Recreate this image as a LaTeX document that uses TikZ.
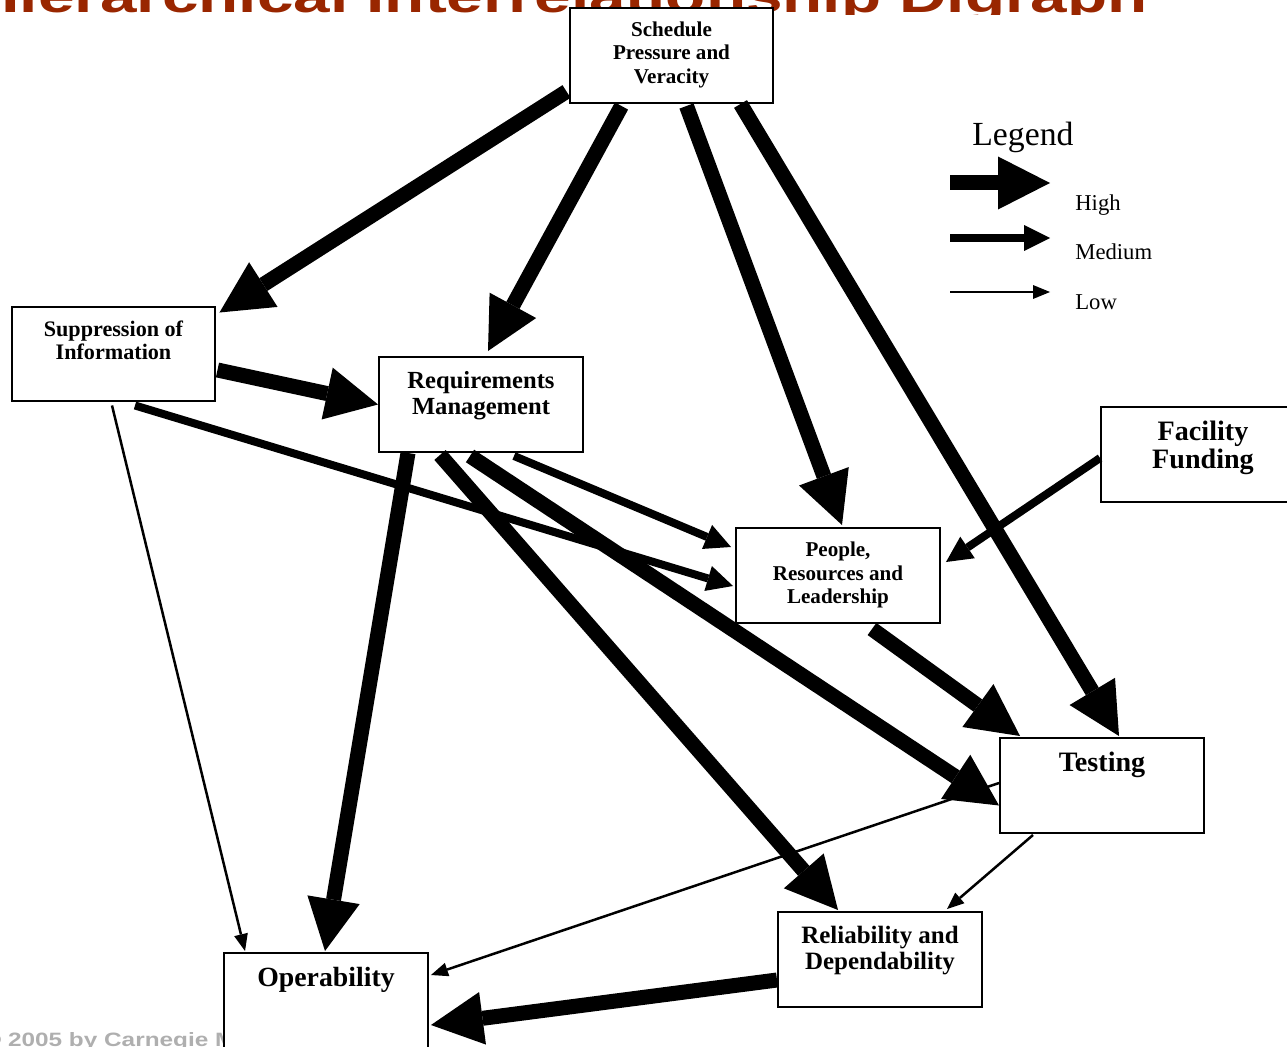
\documentclass[tikz,border=0pt]{standalone}
\usepackage{fontspec}
\setmainfont{Liberation Serif}
\setsansfont{Liberation Sans}
\usepackage{graphicx}
\usetikzlibrary{arrows.meta,calc}

\definecolor{titlered}{RGB}{153,38,0}
\definecolor{copygrey}{RGB}{175,175,175}

\tikzset{
    box/.style={draw, line width=0.04cm, fill=white, minimum width=4.08cm, minimum height=1.9cm, inner sep=0pt},
    boxtext/.style 2 args={anchor=north, yshift=-0.3cm, inner sep=0pt, align=center, font=\fontsize{#1}{#2}\selectfont\bfseries},
    hiarrow/.style={line width=0.3cm, -{Triangle[length=1.04cm, width=1.06cm, line width=0pt]}},
    medarrow/.style={line width=0.16cm, -{Triangle[length=0.52cm, width=0.52cm, line width=0pt]}},
    loarrow/.style={line width=0.05cm, -{Triangle[length=0.34cm, width=0.28cm, line width=0pt]}},
}

\begin{document}
\begin{tikzpicture}[x=0.02cm, y=-0.02cm]
    \useasboundingbox (0,0) rectangle (1287,1047);
    \begin{scope}
        \clip (0,0) rectangle (1287,15);
        \node [anchor=base east, inner sep=0pt, text=titlered, font=\fontsize{26.7pt}{30pt}\selectfont\sffamily\bfseries] (title) at (1148,13) {\scalebox{1.4}[1]{Hierarchical Interrelationship Digraph}};
    \end{scope}
    \node [anchor=base west, inner sep=0pt, text=copygrey, font=\fontsize{11pt}{13pt}\selectfont\sffamily\bfseries] (copy) at (-17,1046) {\scalebox{1.26}[1]{© 2005 by Carnegie M}};

    \node [box, label={[boxtext={12pt}{13.1pt}]north:{Schedule\\Pressure and\\Veracity}}] (sched) at (671.5,55.5) {};
    \node [box, label={[boxtext={12.6pt}{13.1pt}]north:{Suppression of\\Information}}] (supp) at (113.5,354) {};
    \node [box, label={[boxtext={14pt}{14.8pt}]north:{Requirements\\Management}}] (req) at (481,404.5) {};
    \node [box, label={[boxtext={12pt}{13.1pt}]north:{People,\\Resources and\\Leadership}}] (ppl) at (838,575.5) {};
    \node [box, label={[boxtext={16pt}{16pt}]north:{Facility\\Funding}}] (fac) at (1203,454.5) {};
    \node [box, label={[boxtext={16pt}{16pt}]north:{Testing}}] (test) at (1102,785.5) {};
    \node [box, label={[boxtext={14.2pt}{14.8pt}]north:{Reliability and\\Dependability}}] (rel) at (880,959.5) {};
    \node [box, label={[boxtext={15.8pt}{16pt}]north:{Operability}}] (oper) at (326,1000.5) {};

    \draw [hiarrow] ($(sched.west)+(-2,36)$) -- ($(supp.north east)+(3,7)$);
    \draw [hiarrow] ($(sched.south)+(-50,2)$) -- ($(req.north)+(7,-5)$);
    \draw [hiarrow] ($(sched.south)+(15,2)$) -- ($(ppl.north)+(4,-2)$);
    \draw [hiarrow] ($(sched.south)+(69,0)$) -- ($(test.north)+(17,-1)$);
    \draw [hiarrow] ($(supp.east)+(1,16)$) -- (req.west);
    \draw [medarrow] ($(supp.south)+(21.5,3)$) -- ($(ppl.west)+(-2,10.5)$);
    \draw [loarrow] ($(supp.south)+(-1.5,3)$) -- ($(oper.north west)+(22,-1)$);
    \draw [hiarrow] ($(req.south)+(-73,0)$) -- ($(oper.north)+(-1,-1)$);
    \draw [hiarrow] ($(req.south)+(-41,2)$) -- ($(rel.north)+(-42,-1)$);
    \draw [hiarrow] ($(req.south)+(-11,3)$) -- ($(test.west)+(0,20)$);
    \draw [medarrow] ($(req.south)+(33,3)$) -- ($(ppl.west)+(-4,-28.5)$);
    \draw [medarrow] ($(fac.west)+(0,3.5)$) -- ($(ppl.east)+(5,-13.5)$);
    \draw [hiarrow] ($(ppl.south)+(34,5)$) -- ($(test.north west)+(21,-1)$);
    \draw [loarrow] ($(test.west)+(0,-2.5)$) -- ($(oper.east)+(2,-25.5)$);
    \draw [loarrow] ($(test.south)+(-69,1)$) -- ($(rel.north east)+(-36,-2)$);
    \draw [hiarrow] ($(rel.west)+(0,20.5)$) -- ($(oper.east)+(2,24.5)$);

    \node [anchor=base west, inner sep=0pt, font=\fontsize{19.2pt}{22pt}\selectfont] (legend) at (972,146) {Legend};
    \foreach \arr/\y in {hiarrow/183, medarrow/238, loarrow/292}
        \draw [\arr] (950,\y) coordinate (\arr-a) -- (1050,\y) coordinate (\arr-b);
    \node [anchor=base west, inner sep=0pt, font=\fontsize{12.9pt}{15pt}\selectfont] (leghigh) at (1075,211) {High};
    \node [anchor=base west, inner sep=0pt, font=\fontsize{12.9pt}{15pt}\selectfont] (legmed) at (1075,260) {Medium};
    \node [anchor=base west, inner sep=0pt, font=\fontsize{12.9pt}{15pt}\selectfont] (leglow) at (1075,310) {Low};
\end{tikzpicture}
\end{document}
